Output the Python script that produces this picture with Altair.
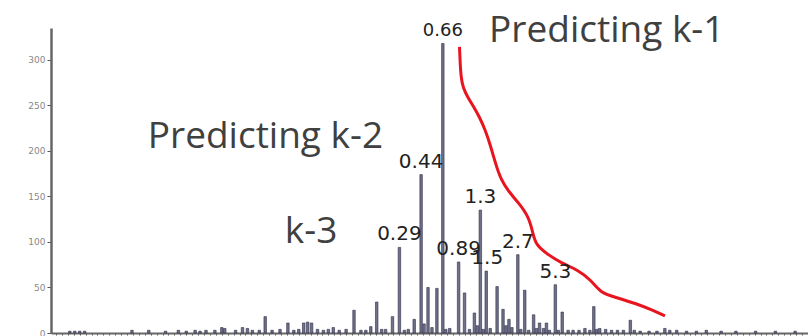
import altair as alt
import pandas as pd

# bar positions (bin index) and counts
bar_px = [65, 70, 75, 80, 128, 145, 162, 175, 183, 192, 197, 203, 212, 219, 222, 233, 240, 245, 250, 257,
          263, 270, 278, 286, 292, 297, 302, 306, 310, 316, 322, 327, 332, 338, 345, 353, 360, 365, 370, 376,
          381, 385, 392, 399, 404, 408, 414, 421, 424, 428, 432, 437, 443, 446, 450, 459, 465, 470, 475, 478,
          481, 484, 487, 491, 498, 504, 507, 510, 513, 519, 522, 526, 530, 535, 538, 541, 545, 548, 551, 557,
          560, 564, 570, 575, 581, 587, 592, 596, 599, 602, 608, 614, 620, 626, 633, 637, 643, 652, 660, 668,
          673, 680, 690, 700, 710, 725, 740, 760, 780, 800]
bar_val = [2, 2, 2, 2, 3, 3, 2, 3, 2, 3, 2, 3, 3, 6, 5, 3, 6, 5, 3, 3,
           18, 3, 4, 11, 3, 4, 11, 12, 11, 4, 3, 4, 6, 3, 4, 25, 3, 3, 7, 34,
           4, 4, 18, 94, 3, 4, 15, 174, 10, 50, 6, 49, 318, 4, 5, 78, 44, 4, 22, 8,
           135, 4, 68, 5, 51, 26, 8, 15, 6, 86, 4, 47, 3, 20, 5, 11, 5, 11, 3, 53,
           3, 23, 3, 3, 3, 5, 3, 29, 4, 5, 4, 3, 3, 3, 14, 3, 2, 2, 2, 5,
           3, 3, 2, 2, 3, 2, 2, 2, 2, 2]
bin_idx = [(p - 51) / 3 for p in bar_px]

# labelled peaks
lab_bin = [(p - 51) / 3 for p in [399, 421, 443, 459, 481, 488, 519, 557]]
lab_val = [94, 174, 318, 78, 135, 68, 86, 53]
lab_txt = ["0.29", "0.44", "0.66", "0.89", "1.3", "1.5", "2.7", "5.3"]
lab_size = [20, 20, 18, 20, 20, 20, 20, 20]

# red "Predicting k-1" curve
curve_bin = [136.3, 136.5, 136.8, 137.5, 139.0, 141.3, 143.0, 145.0, 146.7, 148.3, 150.3, 153.0, 156.3,
             159.7, 161.0, 162.0, 166.3, 170.7, 176.3, 180.7, 184.0, 188.7, 196.3, 201.3, 205.7]
curve_val = [314.3, 297.8, 281.3, 269.2, 259.3, 247.3, 237.4, 223.1, 206.6, 187.9, 168.1, 154.9, 142.9,
             127.5, 111.0, 96.7, 85.7, 76.9, 69.2, 58.2, 44.0, 39.6, 31.9, 25.3, 18.7]

# annotations
ann_txt = ["Predicting k-1", "Predicting k-2", "k-3"]
ann_bin = [146.3, 31.0, 77.3]
ann_val = [319.8, 203.3, 98.9]

xs = alt.Scale(domain=[0, 252.33], nice=False, zero=False)
ys = alt.Scale(domain=[0, 335], nice=False)

bars_df = pd.DataFrame({"bin": bin_idx, "count": bar_val})
lab_df = pd.DataFrame({"bin": lab_bin, "count": lab_val, "txt": lab_txt, "size": lab_size})
curve_df = pd.DataFrame({"bin": curve_bin, "count": curve_val, "order": list(range(len(curve_bin)))})
ann_df = pd.DataFrame({"bin": ann_bin, "count": ann_val, "txt": ann_txt})

bars = alt.Chart(bars_df).mark_bar(size=2.5, color="#707089", stroke="#2e2e48", strokeWidth=0.6).encode(
    x=alt.X("bin:Q", scale=xs,
            axis=alt.Axis(title=None, labels=False, grid=False, tickCount=120, tickSize=2,
                          domainColor="#666", domainWidth=2, tickColor="#555")),
    y=alt.Y("count:Q", scale=ys,
            axis=alt.Axis(title=None, grid=False, values=[0, 50, 100, 150, 200, 250, 300],
                          labelFontSize=9, labelColor="#888", labelFont="DejaVu Sans",
                          tickSize=4, tickColor="#555", domainColor="#666", domainWidth=2.5,
                          labelPadding=2)),
)

labels = alt.Chart(lab_df).mark_text(baseline="bottom", dy=-3, font="DejaVu Sans", color="#222").encode(
    x=alt.X("bin:Q", scale=xs),
    y=alt.Y("count:Q", scale=ys),
    text="txt:N",
    size=alt.Size("size:Q", scale=None, legend=None),
)

curve = alt.Chart(curve_df).mark_line(color="#e8141e", strokeWidth=3, interpolate="basis").encode(
    x=alt.X("bin:Q", scale=xs),
    y=alt.Y("count:Q", scale=ys),
    order="order:Q",
)

ann = alt.Chart(ann_df).mark_text(align="left", baseline="alphabetic", font="Open Sans",
                                  fontSize=37, color="#404040").encode(
    x=alt.X("bin:Q", scale=xs),
    y=alt.Y("count:Q", scale=ys),
    text="txt:N",
)

chart = alt.layer(bars, curve, labels, ann).properties(
    width=757, height=305,
    autosize=alt.AutoSizeParams(type="none"),
    padding={"left": 51, "top": 28, "right": 0, "bottom": 3},
).configure_view(stroke=None)

chart.save("out.html", embed_options={"renderer": "svg", "actions": False})
